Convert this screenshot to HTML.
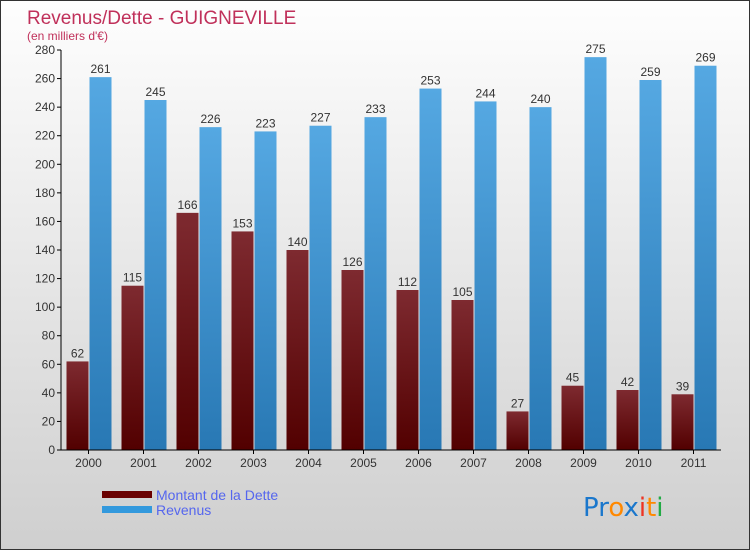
<!DOCTYPE html>
<html><head><meta charset="utf-8"><style>
body{margin:0;width:750px;height:550px;overflow:hidden;font-family:"Liberation Sans",sans-serif}
#wrap{position:relative;width:748px;height:548px;border:1px solid #333;background:linear-gradient(#fefefe,#cfcfcf)}
</style></head><body>
<div id="wrap">
<svg id="chart" width="748" height="548" xmlns="http://www.w3.org/2000/svg">
<defs>
<linearGradient id="gDebt" x1="0" y1="0" x2="0" y2="1"><stop offset="0" stop-color="#7e2a30"/><stop offset="1" stop-color="#520000"/></linearGradient>
<linearGradient id="gRev" x1="0" y1="0" x2="0" y2="1"><stop offset="0" stop-color="#55a8e2"/><stop offset="1" stop-color="#2878b4"/></linearGradient>
</defs>
<text x="26" y="23" font-size="19" fill="#c0305a">Revenus/Dette - GUIGNEVILLE</text>
<text x="26" y="39" font-size="12" fill="#c0305a">(en milliers d'€)</text>
<g id="plot"></g>
<g>
<rect x="101" y="490" width="50" height="7" fill="#6a0000"/>
<text x="155" y="499" font-size="14" fill="#5566ee">Montant de la Dette</text>
<rect x="101" y="505" width="50" height="7" fill="#3399dd"/>
<text x="155" y="514" font-size="14" fill="#5566ee">Revenus</text>
</g>
<g font-size="26" font-family="'DejaVu Sans',sans-serif">
<text x="582" y="515"><tspan fill="#1a77cc">Pr</tspan><tspan fill="#ff8800">o</tspan><tspan fill="#1a77cc">x</tspan><tspan fill="#ee3322">i</tspan><tspan fill="#ff8800">t</tspan><tspan fill="#22aa44">i</tspan></text>
</g>
</svg></div>
<script>
const years=["2000","2001","2002","2003","2004","2005","2006","2007","2008","2009","2010","2011"];
const debt=[62,115,166,153,140,126,112,105,27,45,42,39];
const revenus=[261,245,226,223,227,233,253,244,240,275,259,269];
const yTicks=[0,20,40,60,80,100,120,140,160,180,200,220,240,260,280];
const NS="http://www.w3.org/2000/svg";
const plot=document.getElementById('plot');
const x0=60,xW=55,yBase=449,yMax=280,yH=400;
function y(v){return yBase-v/yMax*yH;}
function xc(i){return x0+xW*(i+0.5);}
function mk(tag,attrs,parent){const e=document.createElementNS(NS,tag);for(const k in attrs)e.setAttribute(k,attrs[k]);(parent||plot).appendChild(e);return e;}
yTicks.forEach(t=>{
  const l=mk('line',{x1:x0-4,x2:x0,y1:y(t),y2:y(t),stroke:'#000'});
  
  
  const tx=mk('text',{x:x0-6,y:y(t)+4,'text-anchor':'end','font-size':12,fill:'#333'});
  tx.textContent=t;
  
  
});
years.forEach((yr,i)=>{
  const c=xc(i);
  const b1=mk('rect',{x:c-22,y:y(debt[i]),width:22,height:yBase-y(debt[i]),fill:'url(#gDebt)'});
  
  
  const b2=mk('rect',{x:c+1,y:y(revenus[i]),width:22,height:yBase-y(revenus[i]),fill:'url(#gRev)'});
  
  
  const t1=mk('text',{x:c-11,y:y(debt[i])-4,'text-anchor':'middle','font-size':12,fill:'#333'});
  t1.textContent=debt[i];
  
  
  const t2=mk('text',{x:c+12,y:y(revenus[i])-4,'text-anchor':'middle','font-size':12,fill:'#333'});
  t2.textContent=revenus[i];
  
  
  const tk=mk('line',{x1:c,x2:c,y1:yBase,y2:yBase+4,stroke:'#000'});
  
  
  const xl=mk('text',{x:c,y:yBase+17,'text-anchor':'middle','font-size':12,fill:'#333'});
  xl.textContent=yr;
  
  
});
const ya=mk('line',{x1:x0,x2:x0,y1:y(280),y2:yBase,stroke:'#000'});


const xa=mk('line',{x1:x0-3,x2:x0+xW*12,y1:yBase,y2:yBase,stroke:'#000'});


</script>
</body></html>
